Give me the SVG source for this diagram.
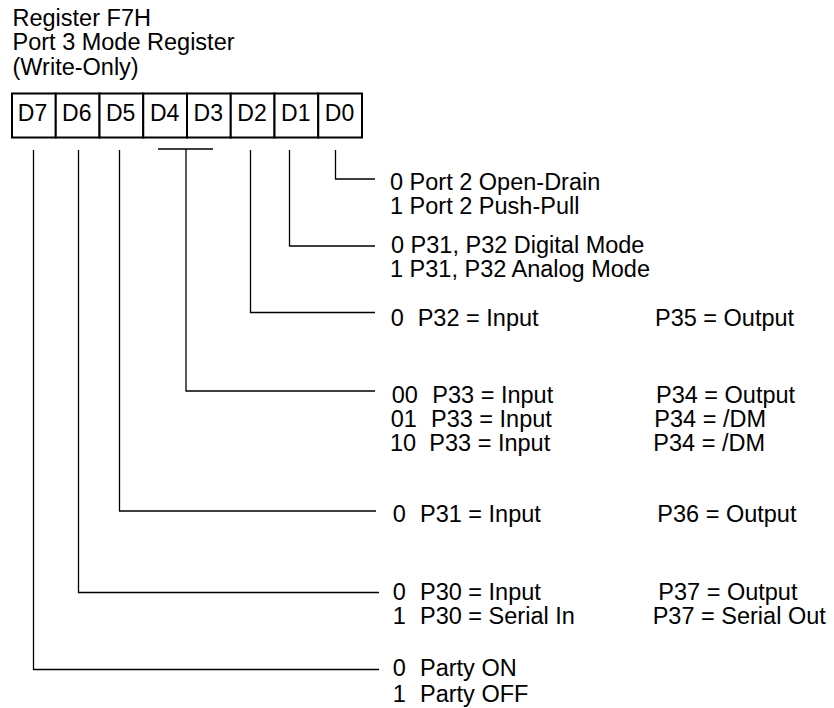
<svg xmlns="http://www.w3.org/2000/svg" width="834" height="708" viewBox="0 0 834 708">
<style>
text{font-family:"Liberation Sans",Arial,Helvetica,sans-serif;font-size:23.5px;fill:#000}
.cell{font-size:23px;text-anchor:middle}
.box{fill:#fff;stroke:#000;stroke-width:2}
.conn{fill:none;stroke:#000;stroke-width:1.3}
</style>
<rect width="834" height="708" fill="#fff"/>
<g id="title">
<text x="12.5" y="25.5">Register F7H</text>
<text x="12.5" y="50">Port 3 Mode Register</text>
<text x="12.5" y="74.5">(Write-Only)</text>
</g>
<g id="register">
<g id="bit-D7"><rect class="box" x="12" y="93.5" width="43.75" height="44"/><text class="cell" x="32.5" y="120.5">D7</text></g>
<g id="bit-D6"><rect class="box" x="55.75" y="93.5" width="43.75" height="44"/><text class="cell" x="76.8" y="120.5">D6</text></g>
<g id="bit-D5"><rect class="box" x="99.5" y="93.5" width="43.75" height="44"/><text class="cell" x="120.6" y="120.5">D5</text></g>
<g id="bit-D4"><rect class="box" x="143.25" y="93.5" width="43.75" height="44"/><text class="cell" x="164.6" y="120.5">D4</text></g>
<g id="bit-D3"><rect class="box" x="187" y="93.5" width="43.75" height="44"/><text class="cell" x="208.3" y="120.5">D3</text></g>
<g id="bit-D2"><rect class="box" x="230.75" y="93.5" width="43.75" height="44"/><text class="cell" x="252" y="120.5">D2</text></g>
<g id="bit-D1"><rect class="box" x="274.5" y="93.5" width="43.75" height="44"/><text class="cell" x="295.8" y="120.5">D1</text></g>
<g id="bit-D0"><rect class="box" x="318.25" y="93.5" width="43.75" height="44"/><text class="cell" x="339.5" y="120.5">D0</text></g>
</g>
<g id="connectors">
<polyline class="conn" points="335.5,150 335.5,179 375,179"/>
<polyline class="conn" points="289.5,150 289.5,246 375,246"/>
<polyline class="conn" points="250.5,150 250.5,312.5 375,312.5"/>
<line class="conn" x1="158" y1="149" x2="213" y2="149"/>
<polyline class="conn" points="186,149 186,391 375,391"/>
<polyline class="conn" points="119.5,150 119.5,511 376,511"/>
<polyline class="conn" points="78.5,150 78.5,592.5 379,592.5"/>
<polyline class="conn" points="33.5,150 33.5,669.5 379,669.5"/>
</g>
<g id="desc-D0">
<text x="390" y="189.5">0 Port 2 Open-Drain</text>
<text x="390" y="213.5">1 Port 2 Push-Pull</text>
</g>
<g id="desc-D1">
<text x="391" y="253">0 P31, P32 Digital Mode</text>
<text x="390" y="277">1 P31, P32 Analog Mode</text>
</g>
<g id="desc-D2">
<text><tspan x="390.7" y="325.5">0 </tspan><tspan x="417.7" y="325.5">P32 = Input</tspan></text>
<text x="655" y="325.5">P35 = Output</text>
</g>
<g id="desc-D4D3">
<text><tspan x="391.7" y="402.5">00 </tspan><tspan x="432.3" y="402.5">P33 = Input</tspan></text>
<text x="656" y="402.5">P34 = Output</text>
<text><tspan x="390.7" y="427">01 </tspan><tspan x="431" y="427">P33 = Input</tspan></text>
<text x="654.3" y="427">P34 = /DM</text>
<text><tspan x="390" y="451">10 </tspan><tspan x="429.3" y="451">P33 = Input</tspan></text>
<text x="653.3" y="451">P34 = /DM</text>
</g>
<g id="desc-D5">
<text><tspan x="392.7" y="521.5">0 </tspan><tspan x="420" y="521.5">P31 = Input</tspan></text>
<text x="657.3" y="521.5">P36 = Output</text>
</g>
<g id="desc-D6">
<text><tspan x="392.7" y="600">0 </tspan><tspan x="420" y="600">P30 = Input</tspan></text>
<text x="658.3" y="600">P37 = Output</text>
<text><tspan x="392.7" y="624.3">1 </tspan><tspan x="420" y="624.3">P30 = Serial In</tspan></text>
<text x="652.7" y="624.3">P37 = Serial Out</text>
</g>
<g id="desc-D7">
<text><tspan x="392.7" y="676">0 </tspan><tspan x="420" y="676">Party ON</tspan></text>
<text><tspan x="392.7" y="701.5">1 </tspan><tspan x="420" y="701.5">Party OFF</tspan></text>
</g>
</svg>
